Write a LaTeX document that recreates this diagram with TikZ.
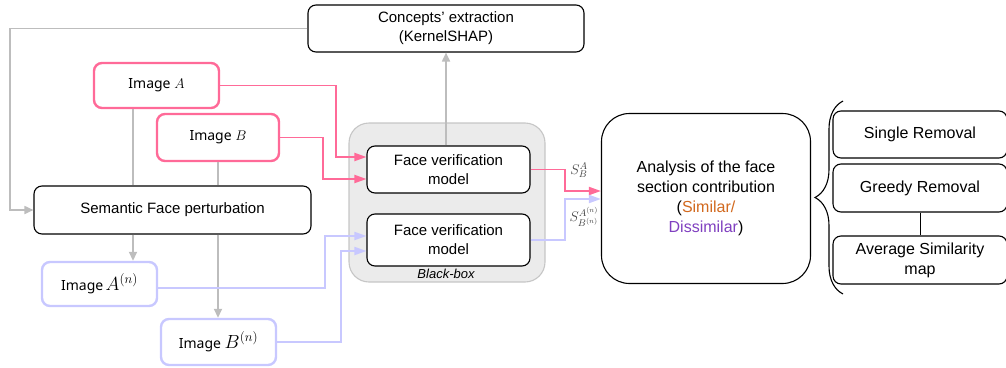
\RequirePackage{fix-cm}
\documentclass[tikz,border=0pt]{standalone}
\usepackage{fontspec}
\setmainfont{Liberation Sans}
\newfontfamily\imgfont{Noto Sans}
\usetikzlibrary{arrows.meta,decorations.pathreplacing,calc}
\definecolor{pinkc}{HTML}{FF6A98}
\definecolor{bluec}{HTML}{C8C8FF}
\definecolor{grayc}{HTML}{BDBDBD}
\definecolor{bbfill}{HTML}{EBEBEB}
\definecolor{bbdraw}{HTML}{C6C6C6}
\definecolor{simc}{HTML}{D2691E}
\definecolor{dissc}{HTML}{8040C0}
\definecolor{labc}{HTML}{404040}
\begin{document}
\begin{tikzpicture}[x=1pt,y=-1pt,
  box/.style={draw=black, line width=1.1pt, rounded corners=8pt, fill=white, align=center,
    font=\fontsize{15}{19}\selectfont, inner sep=0pt},
  pinkbox/.style={box, draw=pinkc, line width=2.4pt, font=\imgfont\fontsize{14}{17}\selectfont},
  bluebox/.style={box, draw=bluec, line width=2.4pt, font=\imgfont\fontsize{14}{17}\selectfont},
  rbox/.style={box, font=\fontsize{16}{20}\selectfont, minimum width=174pt, minimum height=47pt},
  gl/.style={draw=grayc, line width=1.7pt},
  garr/.style={gl, -{Triangle[length=9pt,width=8pt]}},
  pl/.style={draw=pinkc, line width=1.8pt, -{Triangle[length=12pt,width=8pt]}},
  bl/.style={draw=bluec, line width=1.8pt, -{Triangle[length=12pt,width=8pt]}},
  slab/.style={text=labc, font=\fontsize{14}{16}\selectfont, inner sep=0pt}
]
\clip (0,0) rectangle (1006,367);
\useasboundingbox (0,0) rectangle (1006,367);

% nodes
\node[box, minimum width=276pt, minimum height=47pt] (concepts) at (446,28.5) {Concepts' extraction\\(KernelSHAP)};
\node[pinkbox, minimum width=125pt, minimum height=45pt] (imgA) at (156.5,85.5) {Image $A$};
\node[pinkbox, minimum width=122pt, minimum height=47pt] (imgB) at (218,137.5) {Image $B$};
\node[box, minimum width=277pt, minimum height=48pt] (sem) at (172.5,210) {Semantic Face perturbation};
\node[bluebox, minimum width=115pt, minimum height=44pt] (imgAn) at (99.5,284) {Image\,{\fontsize{19}{20}\selectfont$A^{(n)}$}};
\node[bluebox, minimum width=115pt, minimum height=46pt] (imgBn) at (218.5,342) {Image {\fontsize{19}{20}\selectfont$B^{(n)}$}};

\node[draw=bbdraw, fill=bbfill, line width=1.1pt, rounded corners=20pt, minimum width=196pt, minimum height=159pt] (bb) at (447,202.5) {};
\node[font=\itshape\fontsize{13}{15}\selectfont, inner sep=0pt] (bblab) at (446,273.5) {Black-box};
\node[box, minimum width=163pt, minimum height=47pt] (fv1) at (448.5,169.5) {Face verification\\model};
\node[box, minimum width=163pt, minimum height=52pt] (fv2) at (448.5,240) {Face verification\\model};

\node[box, rounded corners=28pt, font=\fontsize{16}{20}\selectfont, minimum width=209pt, minimum height=170pt] (ana) at (706,198.5)
  {Analysis of the face\\section contribution\\(\textcolor{simc}{Similar/}\\\textcolor{dissc}{Dissimilar})};

\node[rbox] (sr) at (920,134.5) {Single Removal};
\node[rbox, minimum height=48pt] (gr) at (920,188) {Greedy Removal};
\node[rbox, minimum height=48pt] (avg) at (920,260) {Average Similarity\\map};

\node[slab] (s1) at (579,170) {$S^{A}_{B}$};
\node[slab] (s2) at (584,217) {$S^{A^{(n)}}_{B^{(n)}}$};

% gray connectors
\coordinate (cl) at (10,0);
\draw[garr] (concepts.west) -- (concepts.west -| cl) |- (sem.west);
\coordinate (xa) at (133,0);
\draw[gl] (imgA.south -| xa) -- (sem.north -| xa);
\draw[garr] (sem.south -| xa) -- (imgAn.north -| xa);
\draw[gl] (imgB.south) -- (sem.north -| imgB.south);
\draw[garr] (sem.south -| imgB.south) -- (imgBn.north -| imgB.south);
\draw[garr] (fv1.north -| concepts.south) -- (concepts.south);

% pink connectors
\coordinate (pa) at (336,157);
\draw[pl] (imgA.east) -| (pa) -- (pa -| fv1.west);
\coordinate (pb) at (323,179);
\draw[pl] (imgB.east) -| (pb) -- (pb -| fv1.west);
\coordinate (po) at (565,191);
\coordinate (pq) at (565,169.5);
\draw[pl] (fv1.east) -- (pq) -- (po) -- (po -| ana.west);

% blue connectors
\coordinate (ba) at (325,236);
\draw[bl] ($(imgAn.east)+(0,4)$) -| (ba) -- (ba -| fv2.west);
\coordinate (bbn) at (341,251);
\draw[bl] (imgBn.east) -| (bbn) -- (bbn -| fv2.west);
\coordinate (bo) at (565,199);
\draw[bl] (fv2.east) -| (bo) -- (bo -| ana.west);

% right side
\draw[line width=1pt] (gr.south) -- (avg.north);
\draw[line width=1.1pt, decorate, decoration={brace, amplitude=28pt}] (843,294) -- (843,101);
\end{tikzpicture}
\end{document}
